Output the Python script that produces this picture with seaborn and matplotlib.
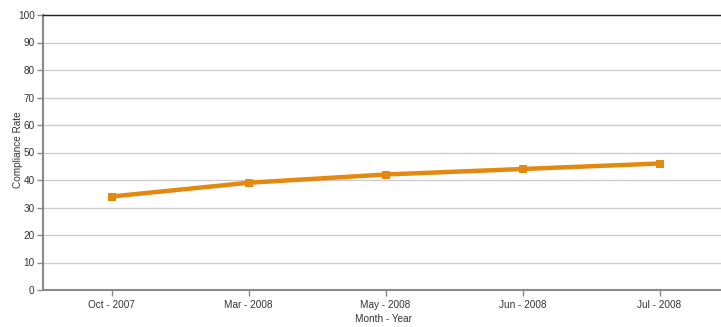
import matplotlib
matplotlib.use("Agg")
import matplotlib.pyplot as plt
import seaborn as sns
import pandas as pd

months = ["Oct - 2007", "Mar - 2008", "May - 2008", "Jun - 2008", "Jul - 2008"]
rates = [34, 39, 42, 44, 46]
y_ticks = [0, 10, 20, 30, 40, 50, 60, 70, 80, 90, 100]

sns.set_theme(style="white")
plt.rcParams['font.family'] = ['Liberation Sans', 'DejaVu Sans']

df = pd.DataFrame({"month": months, "rate": rates, "pos": range(len(months))})

fig = plt.figure(figsize=(7.21, 3.27), dpi=100)
W, H = 721, 327
ax = fig.add_axes([43 / W, (H - 290) / H, (721 - 43) / W, (290 - 15) / H])

sns.lineplot(data=df, x="pos", y="rate", ax=ax, color="#E3890F", linewidth=3.2,
             marker="s", markersize=6, markeredgewidth=0, markerfacecolor="#E3890F")

ax.set_xlim(-0.5, -0.5 + 678 / 137)
ax.set_ylim(0, 100)
ax.set_xticks(range(len(months)))
ax.set_xticklabels(months)
ax.set_yticks(y_ticks)
ax.yaxis.grid(True, color="#CDCDCD", linewidth=1)
ax.xaxis.grid(False)

for s in ["left", "bottom"]:
    ax.spines[s].set_color("#8A8A8A")
    ax.spines[s].set_linewidth(1.5)
ax.spines["top"].set_color("#222222")
ax.spines["top"].set_linewidth(1)
ax.spines["right"].set_visible(False)

ax.tick_params(axis="both", which="both", length=4, width=1, color="#8A8A8A",
               labelsize=7.2, labelcolor="#333333", direction="out")
ax.tick_params(axis="x", pad=3)
ax.tick_params(axis="y", pad=2)
ax.tick_params(left=True, bottom=True)

ax.set_xlabel("Month - Year", fontsize=7.2, color="#333333")
ax.xaxis.set_label_coords((383 - 43) / 678, -(314 - 290) / 275)
ax.set_ylabel("Compliance Rate", fontsize=7.2, color="#333333")
ax.yaxis.set_label_coords((23 - 43) / 678, (290 - 150) / 275)

fig.savefig("out.png", dpi=100)
